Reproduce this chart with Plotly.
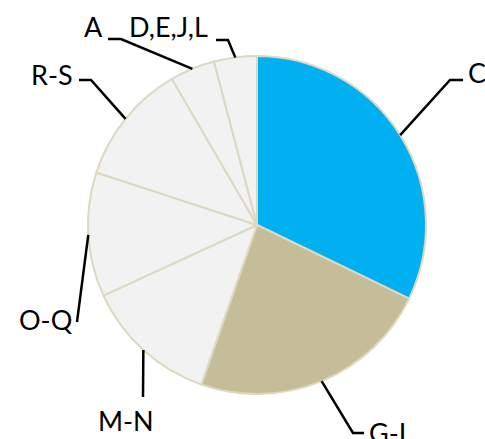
import math
import plotly.graph_objects as go

W, H = 485, 439

# slice data, clockwise from 12 o'clock
labels = ['C', 'G-I', 'M-N', 'O-Q', 'R-S', 'A', 'D,E,J,L']
values = [32.2, 23.2, 12.8, 11.9, 11.6, 4.3, 4.1]
colors = ['#00B0F0', '#C4BD97', '#F2F2F2', '#F2F2F2', '#F2F2F2', '#F2F2F2', '#F2F2F2']

# pie geometry in pixels
cx, cy, R = 257, 225, 169

# leader line elbow / end points and text anchor (pixels, y from top)
place = {
    'C':       dict(elbow=(450, 80), end=(463, 80), text=(466, 72), anchor='left'),
    'G-I':     dict(elbow=(353, 433), end=(364, 433), text=(367, 432), anchor='left'),
    'M-N':     dict(elbow=(143, 397), end=(143, 397), text=(126, 420), anchor='center'),
    'O-Q':     dict(elbow=(77, 322), end=(77, 322), text=(75, 319), anchor='right'),
    'R-S':     dict(elbow=(91, 80), end=(79, 80), text=(75, 74), anchor='right'),
    'A':       dict(elbow=(121, 39), end=(108, 39), text=(105, 26), anchor='right'),
    'D,E,J,L': dict(elbow=(228, 40), end=(216, 40), text=(210, 26), anchor='right'),
}

fig = go.Figure(go.Pie(
    labels=labels,
    values=values,
    sort=False,
    direction='clockwise',
    rotation=0,
    marker=dict(colors=colors, line=dict(color='#DDD8C2', width=2)),
    textinfo='none',
    hoverinfo='label+percent',
    domain=dict(x=[(cx - R) / W, (cx + R) / W], y=[(H - cy - R) / H, (H - cy + R) / H]),
))

shapes = []
annotations = []
total = sum(values)
start = 0.0
for lab, v in zip(labels, values):
    mid = (start + v / 2) / total * 2 * math.pi
    start += v
    ex = cx + R * math.sin(mid)
    ey = cy - R * math.cos(mid)
    p = place[lab]
    pts = [(ex, ey), p['elbow'], p['end']]
    path = 'M ' + ' L '.join(f'{x / W:.5f},{1 - y / H:.5f}' for x, y in pts)
    shapes.append(dict(type='path', path=path, xref='paper', yref='paper',
                       line=dict(color='black', width=2.5)))
    tx, ty = p['text']
    annotations.append(dict(x=tx / W, y=1 - ty / H, xref='paper', yref='paper',
                            text=lab, showarrow=False, xanchor=p['anchor'], yanchor='middle',
                            font=dict(family='Lato', size=27, color='black')))

fig.update_layout(
    width=W, height=H,
    margin=dict(l=0, r=0, t=0, b=0),
    paper_bgcolor='white',
    plot_bgcolor='white',
    showlegend=False,
    shapes=shapes,
    annotations=annotations,
)

# drop the default page margin so the chart sits at the window corner
fig.write_html("out.html", config={'displayModeBar': False},
               post_script="document.body.style.margin='0';")
